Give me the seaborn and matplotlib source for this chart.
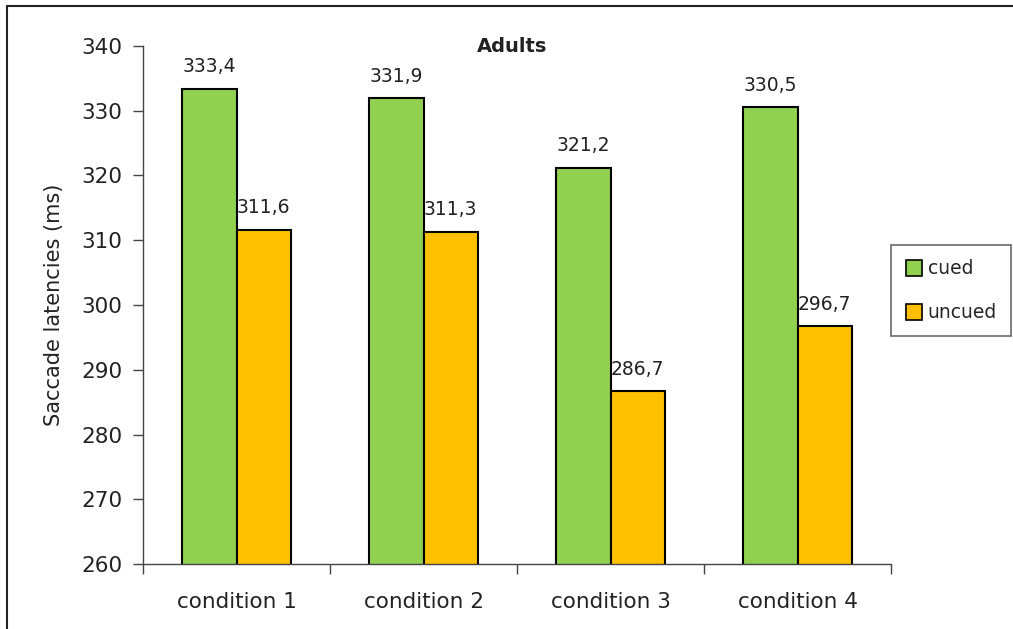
import matplotlib
matplotlib.use("Agg")
import matplotlib.pyplot as plt
import seaborn as sns
import pandas as pd
from matplotlib.lines import Line2D

conditions = ["condition 1", "condition 2", "condition 3", "condition 4"]
cued = [333.4, 331.9, 321.2, 330.5]
uncued = [311.6, 311.3, 286.7, 296.7]
series = ["cued", "uncued"]
yticks = [260, 270, 280, 290, 300, 310, 320, 330, 340]

df = pd.DataFrame({
    "condition": conditions * 2,
    "latency": cued + uncued,
    "cue": ["cued"] * 4 + ["uncued"] * 4,
})

sns.set_style("white")
plt.rcParams["font.family"] = ["DejaVu Sans"]

fig = plt.figure(figsize=(10.13, 6.29), dpi=100)
ax = fig.add_axes([0.1412, 0.1033, 0.7384, 0.8236])

palette = {"cued": "#92D050", "uncued": "#FFC000"}
sns.barplot(data=df, x="condition", y="latency", hue="cue", palette=palette,
            width=0.58, edgecolor="black", linewidth=1.5, ax=ax,
            legend=False, saturation=1)

ax.set_ylim(260, 340)
ax.set_xlim(-0.5, 3.5)
ax.set_yticks(yticks)
ax.set_yticklabels([str(t) for t in yticks], fontsize=15.5, color="#222222")

# category boundary ticks, labels centred between them
ax.set_xticks([-0.5, 0.5, 1.5, 2.5, 3.5])
ax.set_xticklabels([])
ax.set_xticks(range(len(conditions)), minor=True)
ax.set_xticklabels(conditions, minor=True, fontsize=15.5, color="#222222")
ax.tick_params(axis="x", which="major", length=7, width=1, color="#444444", direction="out", bottom=True)
ax.tick_params(axis="x", which="minor", length=0, pad=20)
ax.tick_params(axis="y", length=7, width=1, color="#444444", direction="out", left=True, pad=8)

for side in ["top", "right"]:
    ax.spines[side].set_visible(False)
for side in ["left", "bottom"]:
    ax.spines[side].set_color("#444444")
    ax.spines[side].set_linewidth(1)

ax.set_xlabel("")
ax.set_ylabel("Saccade latencies (ms)", fontsize=15, color="#222222", labelpad=12)
fig.text(512 / 1013, 1 - 46 / 629, "Adults", fontsize=14, fontweight="bold",
         color="#222222", ha="center", va="center")

for container in ax.containers:
    ax.bar_label(container, labels=[f"{v:.1f}".replace(".", ",") for v in container.datavalues],
                 padding=9, fontsize=13.5, color="#222222")

handles = [Line2D([0], [0], marker="s", linestyle="none", markersize=11,
                  markerfacecolor=palette[s], markeredgecolor="black", markeredgewidth=1.2)
           for s in series]
leg = fig.legend(handles, series, loc="upper left", bbox_to_anchor=(891 / 1013, 1 - 245 / 629),
                 frameon=True, fancybox=False, fontsize=13.5, handletextpad=0.3,
                 labelspacing=1.35, borderpad=0.75, handlelength=0.9, borderaxespad=0)
leg.get_frame().set_edgecolor("#444444")
leg.get_frame().set_linewidth(1.2)

# outer frame lines along left and top edges
fig.add_artist(Line2D([7 / 1013, 7 / 1013], [0, 1 - 6 / 629], transform=fig.transFigure,
                      color="#222222", linewidth=1.5))
fig.add_artist(Line2D([7 / 1013, 1], [1 - 6 / 629, 1 - 6 / 629], transform=fig.transFigure,
                      color="#222222", linewidth=1.5))

fig.savefig("out.png", dpi=100)
